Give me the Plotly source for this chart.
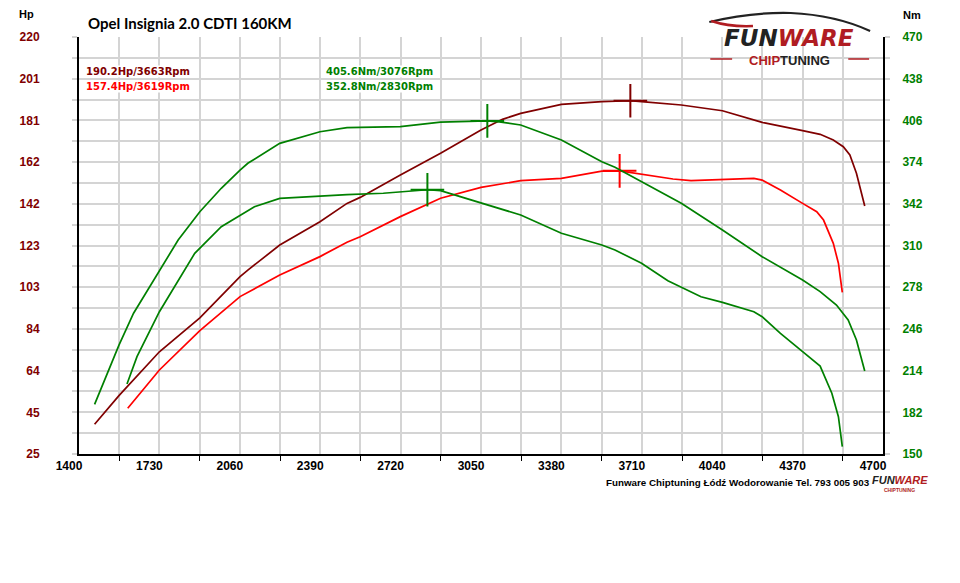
import plotly.graph_objects as go

# tuned / stock power (Hp) and torque (Nm) read from the dyno sheet
power_tuned_rpm = [1464, 1564, 1730, 1896, 2061, 2093, 2224, 2389, 2500, 2554, 2719, 2884, 3050, 3138, 3213,
                   3380, 3546, 3663, 3709, 3872, 4041, 4204, 4370, 4442, 4496, 4537, 4564, 4591, 4625]
power_tuned_hp = [38.9, 52.3, 72.8, 88.7, 107.9, 111.0, 122.7, 133.6, 142.2, 145.0, 155.5, 165.6, 176.5, 181.5, 184.3,
                  188.5, 189.8, 190.2, 189.8, 188.2, 185.5, 180.1, 176.2, 174.5, 171.8, 168.7, 164.8, 156.3, 141.0]

power_stock_rpm = [1600, 1730, 1896, 2061, 2224, 2389, 2500, 2554, 2719, 2884, 3050, 3213, 3380, 3546, 3619,
                   3709, 3838, 3912, 4041, 4170, 4204, 4279, 4370, 4428, 4456, 4496, 4517, 4533]
power_stock_hp = [46.4, 64.3, 82.7, 98.6, 108.7, 117.3, 124.0, 126.6, 136.0, 144.6, 149.7, 152.8, 153.9, 157.3, 157.4,
                  155.9, 153.6, 152.8, 153.4, 153.9, 153.1, 148.5, 142.2, 138.3, 134.4, 123.5, 114.2, 100.6]

torque_tuned_rpm = [1464, 1564, 1624, 1730, 1807, 1896, 1984, 2061, 2093, 2224, 2389, 2500, 2719, 2884, 3076,
                    3125, 3213, 3380, 3546, 3600, 3709, 3872, 4041, 4204, 4370, 4442, 4509, 4557, 4591, 4625]
torque_tuned_nm = [188.1, 233.6, 258.0, 291.2, 314.2, 335.9, 353.9, 367.9, 373.1, 388.4, 397.3, 400.4, 401.2, 404.6, 405.6,
                   404.8, 402.5, 391.0, 374.3, 370.0, 358.9, 342.4, 321.9, 301.4, 283.5, 274.6, 264.3, 252.8, 237.5, 213.7]

torque_stock_rpm = [1597, 1638, 1730, 1807, 1875, 1984, 2061, 2120, 2224, 2389, 2500, 2649, 2719, 2830, 2884, 3050,
                    3213, 3380, 3546, 3600, 3709, 3817, 3953, 4041, 4170, 4204, 4279, 4370, 4442, 4490, 4517, 4533]
torque_stock_nm = [203.7, 224.7, 259.2, 283.5, 304.0, 324.4, 333.4, 339.8, 346.2, 348.2, 349.0, 350.1, 351.3, 352.8, 352.1, 342.4,
                   333.4, 319.4, 310.4, 306.6, 296.3, 283.0, 270.7, 266.4, 259.2, 255.4, 242.6, 228.5, 217.5, 196.6, 178.6, 155.6]

# peaks
peak_power_rpm = [3663, 3619]
peak_power_hp = [190.2, 157.4]
peak_torque_rpm = [3076, 2830]
peak_torque_nm = [405.6, 352.8]

rpm_ticks = [1400, 1730, 2060, 2390, 2720, 3050, 3380, 3710, 4040, 4370, 4700]
hp_ticks = [25, 44.5, 64, 83.5, 103, 122.5, 142, 161.5, 181, 200.5, 220]
hp_tick_labels = ["25", "45", "64", "84", "103", "123", "142", "162", "181", "201", "220"]
nm_ticks = [150, 182, 214, 246, 278, 310, 342, 374, 406, 438, 470]

DARK_RED = "#800000"
RED = "#ff0000"
GREEN = "#008000"
GRID = "#d4d4d4"
LOGO_RED = "#b01c22"

# plot area in page pixels: x 73..883, y 37..454 (page body has an 8px margin)
def px(x):
    return (x - 73) / 810

def py(y):
    return (454 - y) / 417

fig = go.Figure()
fig.add_trace(go.Scatter(x=power_tuned_rpm, y=power_tuned_hp, mode="lines", line=dict(color=DARK_RED, width=1.7)))
fig.add_trace(go.Scatter(x=power_stock_rpm, y=power_stock_hp, mode="lines", line=dict(color=RED, width=1.7)))
fig.add_trace(go.Scatter(x=torque_tuned_rpm, y=torque_tuned_nm, mode="lines", line=dict(color=GREEN, width=1.7), yaxis="y2"))
fig.add_trace(go.Scatter(x=torque_stock_rpm, y=torque_stock_nm, mode="lines", line=dict(color=GREEN, width=1.7), yaxis="y2"))

fig.add_trace(go.Scatter(x=peak_power_rpm, y=peak_power_hp, mode="markers",
                         marker=dict(symbol="cross-thin", size=24, line=dict(width=2, color=[DARK_RED, RED]))))
fig.add_trace(go.Scatter(x=peak_torque_rpm, y=peak_torque_nm, mode="markers", yaxis="y2",
                         marker=dict(symbol="cross-thin", size=24, line=dict(width=2, color=GREEN))))

tickfont = dict(family="Liberation Sans", size=12, color="black", weight="bold")

fig.update_layout(
    width=944, height=567,
    margin=dict(l=65, r=69, t=29, b=121),
    paper_bgcolor="white", plot_bgcolor="white",
    showlegend=False,
    xaxis=dict(range=[1400, 4700], tickmode="array", tickvals=rpm_ticks, ticks="",
               showgrid=True, gridcolor=GRID, gridwidth=1.5, zeroline=False,
               showline=True, linecolor="black", linewidth=2,
               tickfont=tickfont, ticklabelshift=-10,
               minor=dict(tick0=1565, dtick=330, ticks="outside", ticklen=5, tickcolor="black",
                          showgrid=True, gridcolor=GRID, gridwidth=1.5)),
    yaxis=dict(range=[25, 220], tickmode="array", tickvals=hp_ticks, ticktext=hp_tick_labels,
               ticks="outside", ticklen=5, tickcolor=GRID, tickwidth=1.5,
               showgrid=True, gridcolor=GRID, gridwidth=1.5, zeroline=False,
               showline=True, linecolor="black", linewidth=2,
               tickfont=dict(family="Liberation Sans", size=12, color=DARK_RED, weight="bold"),
               ticklabelstandoff=30,
               minor=dict(tick0=25, dtick=9.75, ticks="outside", ticklen=5, tickcolor=GRID, tickwidth=1.5,
                          showgrid=True, gridcolor=GRID, gridwidth=1.5)),
    yaxis2=dict(range=[150, 470], overlaying="y", side="right", anchor="x",
                tickmode="array", tickvals=nm_ticks,
                ticks="outside", ticklen=5, tickcolor=GRID, tickwidth=1.5,
                showgrid=False, zeroline=False,
                showline=True, linecolor="black", linewidth=2,
                tickfont=dict(family="Liberation Sans", size=12, color=GREEN, weight="bold"),
                ticklabelstandoff=10,
                minor=dict(tick0=150, dtick=16, ticks="outside", ticklen=5, tickcolor=GRID, tickwidth=1.5)),
)

# the grid stops a little below the top of the axes
fig.add_shape(type="rect", xref="paper", yref="y", x0=0, x1=1, y0=207, y1=221,
              fillcolor="white", line=dict(width=0), layer="between")

# car silhouette of the logo
fig.add_shape(type="path", xref="paper", yref="paper", layer="above",
              path=f"M {px(708)},{py(22)} Q {px(750)},{py(12)} {px(790)},{py(13)} Q {px(835)},{py(15)} {px(870)},{py(31)}",
              line=dict(color="#222222", width=2.2))
fig.add_shape(type="path", xref="paper", yref="paper", layer="above",
              path=f"M {px(710)},{py(21)} Q {px(728)},{py(27)} {px(752)},{py(26)}",
              line=dict(color=LOGO_RED, width=2.5))
fig.add_shape(type="line", xref="paper", yref="paper", x0=px(709), x1=px(731), y0=py(59), y1=py(59),
              line=dict(color=LOGO_RED, width=1.5))
fig.add_shape(type="line", xref="paper", yref="paper", x0=px(848), x1=px(869), y0=py(59), y1=py(59),
              line=dict(color=LOGO_RED, width=1.5))

def note(x, y, text, size, color, xanchor="left", family="Liberation Sans", weight="bold", style="normal", bg=None):
    fig.add_annotation(x=px(x), y=py(y), xref="paper", yref="paper", text=text, showarrow=False,
                       xanchor=xanchor, yanchor="middle", bgcolor=bg, borderpad=0,
                       font=dict(family=family, size=size, color=color, weight=weight, style=style))

note(81, 23, "Opel Insignia 2.0 CDTI 160KM", 15, "black", family="Lato")
note(20, 14, "Hp", 11, "black", xanchor="center")
note(912, 15, "Nm", 11, "black", xanchor="center")

note(79, 71, "190.2Hp/3663Rpm", 10, DARK_RED, family="DejaVu Sans", bg="white")
note(79, 86, "157.4Hp/3619Rpm", 10, RED, family="DejaVu Sans", bg="white")
note(321, 71, "405.6Nm/3076Rpm", 10, GREEN, family="DejaVu Sans", bg="white")
note(321, 86, "352.8Nm/2830Rpm", 10, GREEN, family="DejaVu Sans", bg="white")

# logo
note(788, 38, f"FUN<span style='color:{LOGO_RED}'>WARE</span>", 23, "#222222", xanchor="center",
     family="DejaVu Sans", style="italic")
note(789, 60, f"<span style='color:{LOGO_RED}'>CHIP</span>TUNING", 13, "#222222", xanchor="center")

# footer
note(737, 482, "Funware Chiptuning Łódź Wodorowanie Tel. 793 005 903", 9.8, "black", xanchor="center")
note(900, 480, f"FUN<span style='color:{LOGO_RED}'>WARE</span>", 11, "#222222", xanchor="center", style="italic")
note(900, 490, "CHIPTUNING", 5, LOGO_RED, xanchor="center")

fig.write_html("out.html")
